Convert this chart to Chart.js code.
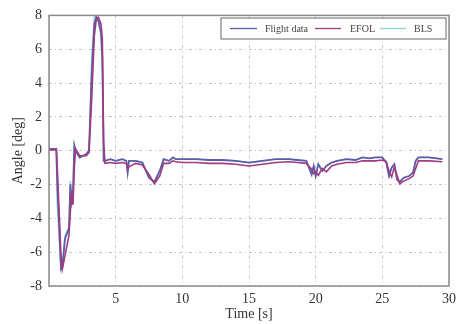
<!DOCTYPE html>
<html>
<head>
<meta charset="utf-8">
<script src="https://cdn.jsdelivr.net/npm/chart.js@4"></script>
<style>
  html, body { margin: 0; padding: 0; background: #fff; }
  #wrap { width: 461px; height: 324px; }
</style>
</head>
<body>
<div id="wrap"><canvas id="myChart"></canvas></div>
<script>
const time = [0, 0.55, 0.6, 0.9, 1.0, 1.2, 1.5, 1.6, 1.7, 1.8, 1.9, 2.0, 2.3, 2.8, 3.0, 3.2, 3.4, 3.55, 3.7, 3.9, 4.0, 4.1, 4.2, 4.6, 5.0, 5.5, 5.8, 5.9, 6.0, 6.5, 7.0, 7.5, 7.9, 8.3, 8.6, 9.0, 9.3, 9.5, 10, 11, 12, 13, 14, 15, 16, 17, 18, 18.6, 19.3, 19.7, 19.85, 20.0, 20.2, 20.5, 20.8, 21.2, 21.6, 22.3, 23.0, 23.5, 24, 24.5, 25.0, 25.3, 25.5, 25.7, 25.9, 26.1, 26.3, 26.6, 27.0, 27.3, 27.5, 27.7, 28.5, 29.5];

const flightData = [0.1, 0.1, -1.5, -7.0, -6.9, -5.2, -4.6, -2.0, -3.0, -2.5, 0.3, 0.0, -0.4, -0.2, 0.0, 4.5, 7.5, 7.9, 7.7, 7.0, 5.5, -0.6, -0.6, -0.5, -0.6, -0.5, -0.6, -1.3, -0.6, -0.6, -0.7, -1.6, -1.85, -1.2, -0.5, -0.6, -0.4, -0.5, -0.5, -0.5, -0.55, -0.55, -0.6, -0.7, -0.6, -0.5, -0.5, -0.55, -0.6, -1.4, -0.9, -1.5, -0.8, -1.2, -0.9, -0.7, -0.6, -0.5, -0.55, -0.4, -0.45, -0.4, -0.4, -0.7, -1.5, -1.0, -0.8, -1.7, -1.85, -1.6, -1.5, -1.3, -0.6, -0.4, -0.4, -0.5];

const efol = [0.05, 0.05, -0.6, -6.2, -7.0, -6.2, -5.0, -3.6, -2.4, -3.2, -1.0, 0.1, -0.3, -0.3, -0.1, 3.0, 6.8, 7.8, 7.9, 7.5, 6.6, 0.5, -0.75, -0.7, -0.75, -0.7, -0.75, -1.1, -0.95, -0.75, -0.85, -1.4, -1.95, -1.5, -0.75, -0.75, -0.6, -0.65, -0.7, -0.7, -0.75, -0.75, -0.8, -0.9, -0.8, -0.7, -0.65, -0.7, -0.75, -1.1, -1.35, -1.25, -1.45, -1.05, -1.25, -0.9, -0.8, -0.7, -0.7, -0.6, -0.6, -0.6, -0.55, -0.65, -1.2, -1.55, -0.95, -1.45, -1.95, -1.8, -1.65, -1.5, -1.05, -0.6, -0.6, -0.65];

const bls = [0.1, 0.1, -3.0, -7.1, -6.8, -5.0, -4.5, -1.8, -2.9, -2.2, 0.4, 0.0, -0.4, -0.2, 0.1, 5.5, 8.0, 7.9, 7.6, 6.8, 4.5, -0.6, -0.6, -0.5, -0.6, -0.5, -0.6, -1.3, -0.6, -0.6, -0.7, -1.6, -1.85, -1.2, -0.5, -0.6, -0.4, -0.5, -0.5, -0.5, -0.55, -0.55, -0.6, -0.7, -0.6, -0.5, -0.5, -0.55, -0.6, -1.4, -0.9, -1.5, -0.8, -1.2, -0.9, -0.7, -0.6, -0.5, -0.55, -0.4, -0.45, -0.4, -0.4, -0.7, -1.5, -1.0, -0.8, -1.7, -1.85, -1.6, -1.5, -1.3, -0.6, -0.4, -0.4, -0.5];

const seriesNames = ['Flight data', 'EFOL', 'BLS'];
const seriesColors = ['#5c5ca8', '#a23a80', '#8ad2dc'];
const xTicks = [5, 10, 15, 20, 25, 30];

const pts = vals => time.map((t, i) => ({ x: t, y: vals[i] }));

const serif = "'Liberation Serif', 'DejaVu Serif', serif";
const gridDash = [3, 3, 1, 3];

// frame round the plot + boxed legend in the top right corner
const framePlugin = {
  id: 'frame',
  afterDraw(chart) {
    const c = chart.ctx;
    const a = chart.chartArea;
    c.save();
    c.strokeStyle = '#8a8a8a';
    c.lineWidth = 1.5;
    c.strokeRect(a.left, a.top, a.right - a.left, a.bottom - a.top);

    // legend
    const lx = 221, ly = 18, lw = 225, lh = 21;
    c.fillStyle = '#fff';
    c.fillRect(lx, ly, lw, lh);
    c.strokeStyle = '#666';
    c.lineWidth = 1;
    c.strokeRect(lx, ly, lw, lh);
    const items = [
      { line: [230, 257], text: 265 },
      { line: [315, 341], text: 350 },
      { line: [380, 406], text: 414 }
    ];
    c.font = '10px ' + serif;
    c.textBaseline = 'middle';
    items.forEach((it, i) => {
      c.strokeStyle = seriesColors[i];
      c.lineWidth = 1.3;
      c.beginPath();
      c.moveTo(it.line[0], ly + lh / 2);
      c.lineTo(it.line[1], ly + lh / 2);
      c.stroke();
      c.fillStyle = '#444';
      c.fillText(seriesNames[i], it.text, ly + lh / 2 + 0.5);
    });
    c.restore();
  }
};

new Chart(document.getElementById('myChart'), {
  type: 'line',
  data: {
    datasets: [
      {
        label: seriesNames[0],
        data: pts(flightData),
        borderColor: seriesColors[0],
        borderWidth: 1.8,
        pointRadius: 0,
        tension: 0,
        order: 2
      },
      {
        label: seriesNames[1],
        data: pts(efol),
        borderColor: seriesColors[1],
        borderWidth: 1.6,
        pointRadius: 0,
        tension: 0,
        order: 1
      },
      {
        label: seriesNames[2],
        data: pts(bls),
        borderColor: seriesColors[2],
        borderWidth: 1.3,
        pointRadius: 0,
        tension: 0,
        order: 3
      }
    ]
  },
  options: {
    responsive: true,
    maintainAspectRatio: false,
    animation: false,
    layout: { padding: { top: 13, right: 8, left: 0, bottom: 0 } },
    plugins: {
      legend: { display: false },
      tooltip: { enabled: false }
    },
    scales: {
      x: {
        type: 'linear',
        min: 0,
        max: 30,
        afterBuildTicks: s => { s.ticks = [0].concat(xTicks).map(v => ({ value: v })); },
        afterFit: s => { s.height = 38; },
        grid: { color: '#c4c4c4', drawTicks: false },
        border: { display: false, dash: gridDash },
        ticks: {
          padding: 5,
          color: '#333',
          font: { family: serif, size: 14 },
          callback: v => (v === 0 ? '' : v)
        },
        title: {
          display: true,
          text: 'Time [s]',
          color: '#333',
          font: { family: serif, size: 14 },
          padding: { top: 0, bottom: 1 }
        }
      },
      y: {
        min: -8,
        max: 8,
        afterFit: s => { s.width = 49; },
        grid: { color: '#c4c4c4', drawTicks: false },
        border: { display: false, dash: gridDash },
        ticks: {
          stepSize: 2,
          padding: 7,
          color: '#333',
          font: { family: serif, size: 14 }
        },
        title: {
          display: true,
          text: 'Angle [deg]',
          color: '#333',
          font: { family: serif, size: 14 },
          padding: { top: 10, bottom: 4 }
        }
      }
    }
  },
  plugins: [framePlugin]
});
</script>
</body>
</html>
